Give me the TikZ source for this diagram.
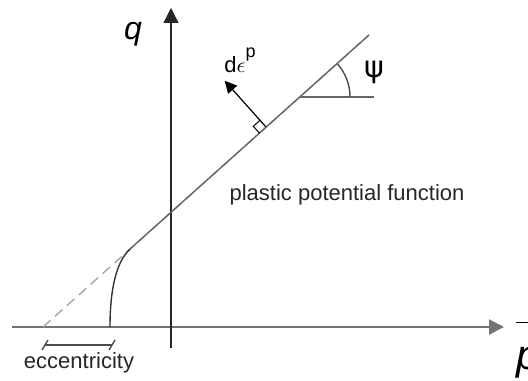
\documentclass[tikz,border=0pt]{standalone}
\usepackage{fontspec}
\setmainfont{Liberation Sans}
\newfontfamily\symfont{DejaVu Sans}
\usetikzlibrary{calc,arrows.meta}
\begin{document}
\begin{tikzpicture}[x=0.5pt,y=0.5pt,>={Triangle[length=7.5pt,width=7.5pt]}]
\useasboundingbox (0,0) rectangle (528,380);
% axes
\coordinate (qbot) at (171,32);
\coordinate (qtop) at (171,372);
\coordinate (pleft) at (12,53);
\coordinate (pright) at (504,53);
\draw[->,line width=1.1pt,black!55] (pleft) -- (pright);
\draw[->,line width=0.6pt,black!85] (qbot) -- (qtop);
\node[font=\fontsize{16}{16}\selectfont\itshape] (qlabel) at (133,346) {q};
\node[font=\fontsize{21}{21}\selectfont\itshape,anchor=west] (plabel) at (509,30) {$\overline{\rule{0pt}{1.05em}\mbox{\itshape p}}$};
% potential line
\coordinate (foot) at (43,53);
\coordinate (knee) at (130,131);
\coordinate (top) at (369,345);
\coordinate (cap) at (110,53);
\draw[dashed,dash pattern=on 5pt off 3pt,black!35,line width=0.7pt] (foot) -- (top);
\draw[black!60,line width=0.7pt] (knee) -- (top);
\draw[black!80,line width=0.7pt] (cap) .. controls (110,90) and (116,118) .. (knee);
% angle psi
\coordinate (apex) at (300,283);
\coordinate (hor) at (374,283);
\draw[black!60,line width=0.7pt] (apex) -- (hor);
\draw[black!70,line width=0.7pt] ($(apex)+(50,0)$) arc[start angle=0,end angle=41.8,radius=50];
\node[font=\fontsize{15}{15}\selectfont\symfont] (psi) at (374,308) {ψ};
% plastic strain increment
\coordinate (nfoot) at (266,253);
\coordinate (ntip) at ($(nfoot)+(131.8:62)$);
\draw[->,>={Triangle[length=6pt,width=6pt]},line width=0.6pt] (nfoot) -- (ntip);
\draw[line width=0.5pt] ($(nfoot)+(221.8:9)$) -- ++(131.8:9) -- ($(nfoot)+(131.8:9)$);
\node[font=\fontsize{11}{11}\selectfont] (deps) at (240,320) {d$\epsilon$\raisebox{1.3ex}{\small p}};
% labels
\node[font=\fontsize{11}{11}\selectfont,black!85] (ppf) at (347,185) {plastic potential function};
\coordinate (eccl) at (45,35);
\coordinate (eccr) at (112,35);
\draw[black!70,line width=0.7pt] (eccl) -- (eccr);
\draw[black!70,line width=0.7pt] ($(eccl)+(-3,-5)$) -- ($(eccl)+(3,5)$);
\draw[black!70,line width=0.7pt] ($(eccr)+(-3,-5)$) -- ($(eccr)+(3,5)$);
\node[font=\fontsize{11}{11}\selectfont,black!85] (ecc) at (79,17) {eccentricity};
\end{tikzpicture}
\end{document}
